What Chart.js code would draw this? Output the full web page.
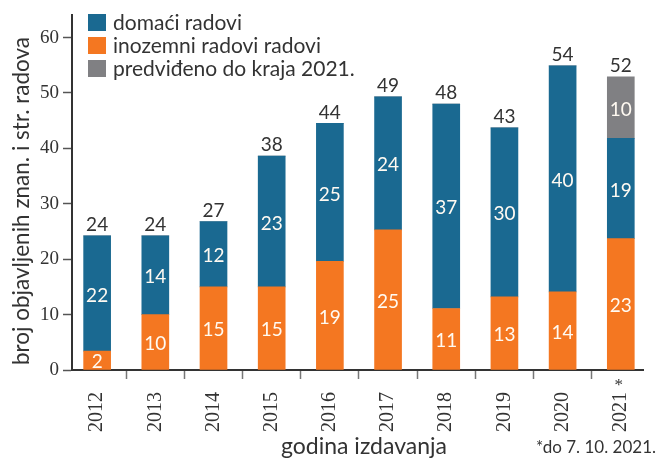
<!DOCTYPE html>
<html><head><meta charset="utf-8">
<script src="https://cdn.jsdelivr.net/npm/chart.js@4/dist/chart.umd.min.js"></script>
<style>html,body{margin:0;padding:0;background:#fff}#wrap{width:658px;height:463px}</style>
</head><body><div id="wrap"><canvas id="c" width="658" height="463"></canvas></div>
<script>
// ---- data ----
const years = ['2012','2013','2014','2015','2016','2017','2018','2019','2020','2021'];
// bar segment heights as drawn
const inozemniHeights   = [3.4, 10.0, 15.0, 15.0, 19.6, 25.3, 11.1, 13.2, 14.1, 23.7];
const domaciHeights     = [20.8, 14.2, 11.8, 23.6, 24.9, 24.0, 36.9, 30.5, 40.8, 18.1];
const predvidenoHeights = [0, 0, 0, 0, 0, 0, 0, 0, 0, 11.1];
// numbers printed on the segments
const inozemniLabels   = [2, 10, 15, 15, 19, 25, 11, 13, 14, 23];
const domaciLabels     = [22, 14, 12, 23, 25, 24, 37, 30, 40, 19];
const predvidenoLabels = [null, null, null, null, null, null, null, null, null, 10];
const totalLabels      = [24, 24, 27, 38, 44, 49, 48, 43, 54, 52];
const yTickValues = [0, 10, 20, 30, 40, 50, 60];
const seriesNames = ['domaći radovi', 'inozemni radovi radovi', 'predviđeno do kraja 2021.'];
const yTitle = 'broj objavljenih znan. i str. radova';
const xTitle = 'godina izdavanja';
const footnote = '*do 7. 10. 2021.';
const starYear = '2021';

const BLUE = '#1a6991', ORANGE = '#f47721', GRAY = '#808083', TXT = '#333333';
const SANS = 'Lato, "Open Sans", sans-serif';
const SERIF = '"Liberation Serif", "DejaVu Serif", serif';

const toXY = arr => arr.map((v, i) => ({x: i, y: v}));

const labelPlugin = {
  id: 'labels',
  afterDatasetsDraw(chart) {
    const ctx = chart.ctx;
    ctx.save();
    ctx.textAlign = 'center';
    ctx.textBaseline = 'middle';
    ctx.font = '19px ' + SANS;
    const tops = years.map(() => Infinity);
    chart.data.datasets.forEach((ds, di) => {
      const meta = chart.getDatasetMeta(di);
      meta.data.forEach((el, j) => {
        if (ds.data[j].y > 0) tops[j] = Math.min(tops[j], el.y);
        const lab = ds.valueLabels[j];
        if (lab === null || lab === undefined) return;
        ctx.fillStyle = '#fffaf2';
        ctx.fillText(String(lab), el.x, (el.y + el.base) / 2 + 2);
      });
    });
    const meta0 = chart.getDatasetMeta(0);
    ctx.fillStyle = TXT;
    meta0.data.forEach((el, j) => {
      ctx.fillText(String(totalLabels[j]), el.x, tops[j] - 11);
    });
    ctx.restore();
  },
  afterDraw(chart) {
    const ctx = chart.ctx;
    ctx.save();
    // legend
    const order = [1, 0, 2];
    order.forEach((di, k) => {
      const ds = chart.data.datasets[di];
      const y = 14 + k * 23;
      ctx.fillStyle = ds.backgroundColor;
      ctx.fillRect(88, y, 18, 17);
      ctx.fillStyle = TXT;
      ctx.font = '21px ' + SANS;
      ctx.textAlign = 'left';
      ctx.textBaseline = 'middle';
      ctx.fillText(ds.label, 113, y + 9);
    });
    // axis titles
    ctx.font = '22.5px ' + SANS;
    ctx.textAlign = 'center';
    ctx.textBaseline = 'middle';
    ctx.save();
    ctx.translate(22, 201);
    ctx.rotate(-Math.PI / 2);
    ctx.fillText(yTitle, 0, 0);
    ctx.restore();
    ctx.font = '23px ' + SANS;
    ctx.textBaseline = 'alphabetic';
    ctx.fillText(xTitle, 364, 454);
    ctx.font = '17px ' + SANS;
    ctx.textAlign = 'right';
    ctx.fillText(footnote, 656, 453);
    // asterisk on 2021
    const xs = chart.scales.x;
    ctx.font = '17px ' + SERIF;
    ctx.textAlign = 'center';
    ctx.textBaseline = 'middle';
    ctx.fillText('*', xs.getPixelForValue(years.indexOf(starYear)) - 2, 386);
    ctx.restore();
  }
};

new Chart(document.getElementById('c'), {
  type: 'bar',
  data: {
    datasets: [
      {label: seriesNames[1], data: toXY(inozemniHeights), backgroundColor: ORANGE, valueLabels: inozemniLabels},
      {label: seriesNames[0], data: toXY(domaciHeights), backgroundColor: BLUE, valueLabels: domaciLabels},
      {label: seriesNames[2], data: toXY(predvidenoHeights), backgroundColor: GRAY, valueLabels: predvidenoLabels}
    ]
  },
  options: {
    responsive: false,
    animation: false,
    layout: {padding: {top: 15, right: 5, left: 0, bottom: 0}},
    plugins: {legend: {display: false}, tooltip: {enabled: false}},
    datasets: {bar: {barThickness: 27, borderWidth: 0}},
    scales: {
      x: {
        type: 'linear', stacked: true, min: -0.432, max: 9.398, offset: false, z: 1,
        afterBuildTicks: s => { s.ticks = years.map((y, i) => ({value: i})); },
        afterFit: s => { s.height = 93; },
        ticks: {
          callback: v => years[v],
          maxRotation: 90, minRotation: 90, autoSkip: false,
          font: {family: SERIF, size: 20}, color: TXT, padding: 13
        },
        grid: {drawOnChartArea: false, drawTicks: true, tickLength: 9, tickColor: '#777', tickWidth: 1.5},
        border: {display: true, color: '#333', width: 2}
      },
      y: {
        stacked: true, min: 0, max: 64, z: 1,
        afterBuildTicks: s => { s.ticks = yTickValues.map(v => ({value: v})); },
        afterFit: s => { s.width = 72; },
        ticks: {font: {family: SERIF, size: 19}, color: TXT, padding: 4},
        grid: {drawOnChartArea: false, drawTicks: true, tickLength: 9, tickColor: '#555', tickWidth: 1.5},
        border: {display: true, color: '#333', width: 2}
      }
    }
  },
  plugins: [labelPlugin]
});
</script>
</body></html>
